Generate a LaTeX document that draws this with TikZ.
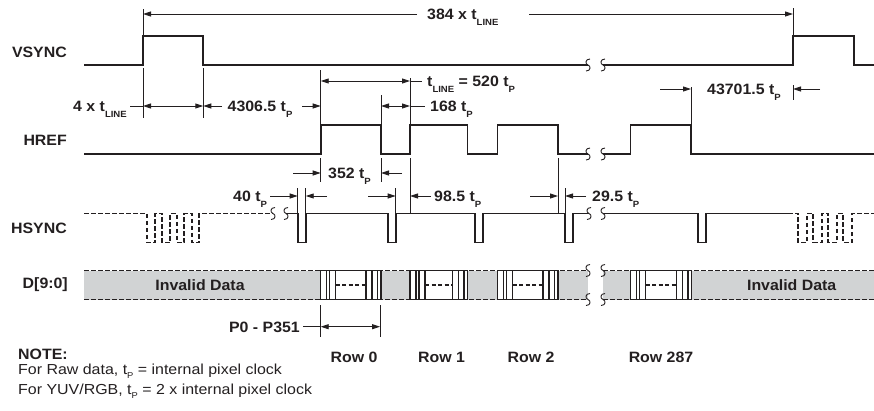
\documentclass[tikz,border=0pt]{standalone}
\usepackage{fontspec}
\setmainfont{Liberation Sans}[FakeStretch=1.06]
\newfontfamily\notefont{Liberation Sans}[FakeStretch=1.1]
\usetikzlibrary{arrows.meta}
\definecolor{ink}{RGB}{35,31,32}
\definecolor{fillgray}{RGB}{209,211,212}
\newcommand\tsub[1]{\raisebox{-6pt}{\fontsize{9}{9}\selectfont #1}}
\newcommand\nsub[1]{\raisebox{-4pt}{\fontsize{8.5}{8.5}\selectfont #1}}
\newcommand\brkmark[2]{\draw[brkst] (#1+2,#2-6) .. controls (#1-3,#2-6) and (#1-3,#2-1) .. (#1,#2) .. controls (#1+3,#2+1) and (#1+3,#2+6) .. (#1-2,#2+6);}
\begin{document}
\begin{tikzpicture}[x=1pt,y=-1pt,
  sig/.style={ink,line width=1.8pt,line join=miter},
  dsig/.style={ink,line width=1.8pt,dash pattern=on 4.5pt off 2.5pt},
  ext/.style={ink,line width=0.9pt},
  dim/.style={ink,line width=0.9pt},
  both/.style={dim,{Triangle[length=8pt,width=5pt]}-{Triangle[length=8pt,width=5pt]}},
  toend/.style={dim,-{Triangle[length=8pt,width=5pt]}},
  blk/.style={ink,line width=1.2pt},
  brkst/.style={ink,line width=0.9pt},
  lbl/.style={font=\fontsize{15}{15}\selectfont\bfseries,text=ink,inner sep=0pt},
  note/.style={font=\notefont\fontsize{14.5}{14.5}\selectfont,text=ink,inner sep=0pt},
]
\useasboundingbox (0,0) rectangle (874,410);

% ---------- signal names
\node[lbl,anchor=east] (nv) at (67,52) {VSYNC};
\node[lbl,anchor=east] (nh) at (67,140) {HREF};
\node[lbl,anchor=east] (ns) at (67,228) {HSYNC};
\node[lbl,anchor=east] (nd) at (68,285) {D[9:0]};

% ---------- VSYNC
\draw[sig] (84,65) -- (143,65) -- (143,36) -- (203.3,36) -- (203.3,65) -- (588,65);
\draw[sig] (603,65) -- (793,65) -- (793,36) -- (854,36) -- (854,65) -- (874,65);
\brkmark{588}{65}\brkmark{603}{65}

% ---------- HREF
\draw[sig] (84,154) -- (320.7,154) -- (320.7,125) -- (381,125) -- (381,154) -- (410,154) -- (410,125)
  -- (467.5,125) -- (467.5,154) -- (497.5,154) -- (497.5,125) -- (558,125) -- (558,154) -- (588,154);
\draw[sig] (603,154) -- (630.5,154) -- (630.5,125) -- (691,125) -- (691,154) -- (874,154);
\brkmark{588}{154}\brkmark{603}{154}

% ---------- HSYNC
\draw[dsig] (84,213.5) -- (146.7,213.5) -- (146.7,242.5) -- (155,242.5) -- (155,213.5) -- (162.3,213.5)
  -- (162.3,242.5) -- (170,242.5) -- (170,213.5) -- (176.7,213.5) -- (176.7,242.5) -- (184.3,242.5)
  -- (184.3,213.5) -- (191.7,213.5) -- (191.7,242.5) -- (199.3,242.5) -- (199.3,213.5) -- (273,213.5);
\brkmark{273}{213.5}\brkmark{286}{213.5}
\draw[sig] (286,213.5) -- (297.7,213.5) -- (297.7,242.5) -- (305.7,242.5) -- (305.7,213.5)
  -- (387.7,213.5) -- (387.7,242.5) -- (395.7,242.5) -- (395.7,213.5)
  -- (475,213.5) -- (475,242.5) -- (483.3,242.5) -- (483.3,213.5)
  -- (565,213.5) -- (565,242.5) -- (572.7,242.5) -- (572.7,213.5) -- (589,213.5);
\brkmark{589}{213.5}\brkmark{603}{213.5}
\draw[sig] (603,213.5) -- (698,213.5) -- (698,242.5) -- (706,242.5) -- (706,213.5) -- (788,213.5);
\draw[dsig] (788,213.5) -- (798.3,213.5) -- (798.3,242.5) -- (806.7,242.5) -- (806.7,213.5) -- (813.3,213.5)
  -- (813.3,242.5) -- (821.7,242.5) -- (821.7,213.5) -- (828.3,213.5) -- (828.3,242.5) -- (836.7,242.5)
  -- (836.7,213.5) -- (843.3,213.5) -- (843.3,242.5) -- (851.7,242.5) -- (851.7,213.5) -- (874,213.5);

% ---------- D[9:0]
\fill[fillgray] (84,270.5) rectangle (588,299.5);
\fill[fillgray] (603,270.5) rectangle (874,299.5);
\draw[dsig] (84,270.5) -- (588,270.5);
\draw[dsig] (84,299.5) -- (588,299.5);
\draw[dsig] (603,270.5) -- (874,270.5);
\draw[dsig] (603,299.5) -- (874,299.5);
\brkmark{588}{270.5}\brkmark{603}{270.5}
\brkmark{588}{299.5}\brkmark{603}{299.5}
\foreach \L/\R in {320.7/381,410/467.5,497.5/558,630.5/691.5}{
  \fill[white] (\L,270.5) rectangle (\R,299.5);
  \draw[blk] (\L,270.5) rectangle (\R,299.5);
  \foreach \dx in {6,9,15} \draw[blk] (\L+\dx,270.5) -- (\L+\dx,299.5);
  \foreach \dx in {15,9,3.5} \draw[blk] (\R-\dx,270.5) -- (\R-\dx,299.5);
  \draw[blk,dash pattern=on 4pt off 2.5pt] (\L+15,285) -- (\R-15,285);
}
\node[lbl] (inv1) at (200,285) {Invalid Data};
\node[lbl] (inv2) at (791.7,285) {Invalid Data};

% ---------- extension lines
\draw[ext] (143,9) -- (143,36);
\draw[ext] (143,68) -- (143,118);
\draw[ext] (203.3,68) -- (203.3,118);
\draw[ext] (320.7,70) -- (320.7,125);
\draw[ext] (381,95) -- (381,125);
\draw[ext] (410,78) -- (410,125);
\draw[ext] (793,8) -- (793,36);
\draw[ext] (793,85) -- (793,100);
\draw[ext] (691,87) -- (691,125);
\draw[ext] (320.7,158) -- (320.7,182);
\draw[ext] (381,158) -- (381,182);
\draw[ext] (410,158) -- (410,213.5);
\draw[ext] (297.7,188) -- (297.7,213.5);
\draw[ext] (305.7,188) -- (305.7,213.5);
\draw[ext] (395.7,188) -- (395.7,213.5);
\draw[ext] (558,158) -- (558,213.5);
\draw[ext] (565,188) -- (565,213.5);
\draw[ext] (320.7,305) -- (320.7,337);
\draw[ext] (380,305) -- (380,337);

% ---------- dimensions
\draw[toend] (417,14) -- (143,14);
\draw[toend] (529,14) -- (793,14);
\node[lbl,anchor=base west] (d384) at (427,19) {384 x t\tsub{LINE}};

\draw[dim] (130,106) -- (143,106);
\draw[both] (143,106) -- (203.3,106);
\node[lbl,anchor=base west] (d4) at (73,111) {4 x t\tsub{LINE}};
\draw[toend] (222,106) -- (203.3,106);
\draw[toend] (302,106) -- (320.7,106);
\node[lbl,anchor=base west] (d4306) at (227.5,111) {4306.5 t\tsub{P}};

\draw[both] (320.7,81) -- (410,81);
\draw[dim] (410,81) -- (422,81);
\node[lbl,anchor=base west] (dline) at (427,86) {t\tsub{LINE} = 520 t\tsub{P}};

\draw[both] (381,106) -- (410,106);
\draw[dim] (410,106) -- (425,106);
\node[lbl,anchor=base west] (d168) at (430,111) {168 t\tsub{P}};

\draw[toend] (660,89) -- (691,89);
\draw[toend] (820,89) -- (793,89);
\node[lbl,anchor=base west] (d437) at (707,94) {43701.5 t\tsub{P}};

\draw[toend] (293,173) -- (320.7,173);
\draw[toend] (402,173) -- (381,173);
\node[lbl,anchor=base west] (d352) at (328,178) {352 t\tsub{P}};

\draw[toend] (270,196) -- (297.7,196);
\draw[toend] (327,196) -- (305.7,196);
\node[lbl,anchor=base west] (d40) at (233,201) {40 t\tsub{P}};

\draw[toend] (368,196) -- (395.7,196);
\draw[toend] (431,196) -- (410,196);
\node[lbl,anchor=base west] (d98) at (434,201) {98.5 t\tsub{P}};

\draw[toend] (530,196) -- (558,196);
\draw[toend] (586,196) -- (565,196);
\node[lbl,anchor=base west] (d29) at (592,201) {29.5 t\tsub{P}};

\draw[dim] (303,326.7) -- (320.7,326.7);
\draw[both] (320.7,326.7) -- (380,326.7);
\node[lbl,anchor=base east] (dp) at (300,332) {P0 - P351};

% ---------- row labels
\node[lbl,anchor=base] (r0) at (354,362) {Row 0};
\node[lbl,anchor=base] (r1) at (441.5,362) {Row 1};
\node[lbl,anchor=base] (r2) at (531,362) {Row 2};
\node[lbl,anchor=base] (r287) at (661,362) {Row 287};

% ---------- note
\node[lbl,anchor=base west] (nt) at (18,359.5) {NOTE:};
\node[note,anchor=base west] (n1) at (18,374.5) {For Raw data, t\nsub{P} = internal pixel clock};
\node[note,anchor=base west] (n2) at (18,394.5) {For YUV/RGB, t\nsub{P} = 2 x internal pixel clock};
\end{tikzpicture}
\end{document}
